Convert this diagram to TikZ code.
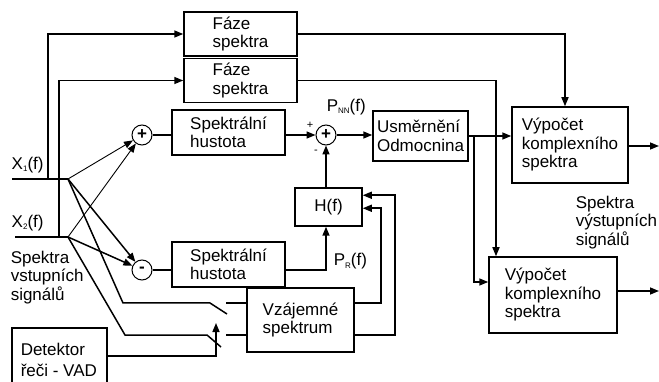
\documentclass[tikz,border=0pt]{standalone}
\usepackage{fontspec}
\setmainfont{Liberation Sans}
\usetikzlibrary{arrows.meta}

\newcommand{\sub}[1]{\raisebox{-2pt}{\fontsize{8}{8}\selectfont #1}}

\begin{document}
\begin{tikzpicture}[x=1pt, y=-1pt, >={Triangle[length=9pt,width=7pt]}, line width=1.5pt,
  font=\fontsize{17}{18.5}\selectfont,
  box/.style={draw, align=left, inner sep=0pt},
  sum/.style={draw, circle, line width=1pt, minimum size=20pt, inner sep=0pt},
  thinline/.style={line width=0.9pt},
  lbl/.style={align=left, inner sep=0pt}]
  \useasboundingbox (0,0) rectangle (659,382);

  \node[box, minimum width=113pt, minimum height=44pt] (faze1) at (240.5,34) {Fáze\\spektra};
  \node[box, minimum width=113pt, minimum height=44pt] (faze2) at (240.5,80.5) {Fáze\\spektra};
  \node[sum] (plus1) at (142,135) {\textbf{+}};
  \node[sum] (minus1) at (142,270) {\textbf{-}};
  \node[box, minimum width=113pt, minimum height=45pt] (hust1) at (228.5,132.5) {Spektrální\\hustota};
  \node[box, minimum width=113pt, minimum height=45pt] (hust2) at (228.5,264.5) {Spektrální\\hustota};
  \node[sum] (sum2) at (326,135) {\textbf{+}};
  \node[box, minimum width=67pt, minimum height=38pt, align=center] (hf) at (328.5,207) {H(f)};
  \node[box, minimum width=95pt, minimum height=50pt] (usm) at (420.5,136) {Usměrnění\\Odmocnina};
  \node[box, minimum width=116pt, minimum height=76pt] (vyp1) at (570,145) {Výpočet\\komplexního\\spektra};
  \node[box, minimum width=128pt, minimum height=76pt] (vyp2) at (553,295) {Výpočet\\komplexního\\spektra};
  \node[box, minimum width=107pt, minimum height=64pt] (vzaj) at (300.5,320) {Vzájemné\\spektrum};

  \node[lbl, anchor=base west] (x1lbl) at (11,170) {X\sub{1}(f)};
  \node[lbl, anchor=base west] (x2lbl) at (11,228) {X\sub{2}(f)};
  \node[lbl, anchor=north west] (vstup) at (10,250) {Spektra\\vstupních\\signálů};
  \node[lbl, anchor=north west] (vystup) at (575,195) {Spektra\\výstupních\\signálů};
  \node[lbl, anchor=base west] (pnn) at (326,112) {P\sub{NN}(f)};
  \node[lbl, anchor=base west] (pr) at (333,266) {P\sub{R}(f)};
  \node[inner sep=0pt, font=\fontsize{11}{11}\selectfont] (pl) at (310,125) {+};
  \node[inner sep=0pt, font=\fontsize{11}{11}\selectfont] (mi) at (316,152) {-};

  \node[lbl, anchor=north west, font=\fontsize{17}{21}\selectfont] (vad) at (20,342) {Detektor\\řeči - VAD};
  \draw (107,395) |- (12,328) -- (12,395);

  \coordinate (x1) at (12,179);
  \coordinate (x1s) at (68,179);
  \coordinate (j1) at (48,179);
  \coordinate (x2) at (15,237);
  \coordinate (x2s) at (68,237);
  \coordinate (j2) at (59,237);
  \coordinate (k1) at (123,303);
  \coordinate (sw1a) at (210,303);
  \coordinate (sw1b) at (227,314);
  \coordinate (sw1c) at (226,303);
  \coordinate (k2) at (125,335);
  \coordinate (sw2a) at (207,335);
  \coordinate (sw2b) at (221,347);
  \coordinate (sw2c) at (226,335);
  \coordinate (vadout) at (107,356);
  \coordinate (vadarr) at (216,323);
  \coordinate (out1) at (659,146);
  \coordinate (out2) at (659,291);

  \draw (x1) -- (x1s);
  \draw (x2) -- (x2s);
  \draw[->] (j1) |- (faze1.west);
  \draw[->] (j2) |- (faze2.west);

  \draw[->, thinline] (x1s) -- (plus1);
  \draw[->, thinline] (x2s) -- (plus1);
  \draw[->] (x1s) -- (minus1);
  \draw[->] (x2s) -- (minus1);

  \draw (x1s) -- (k1) -- (sw1a) -- (sw1b);
  \draw (sw1c) -- (sw1c-|vzaj.west);
  \draw (x2s) -- (k2) -- (sw2a) -- (sw2b);
  \draw (sw2c) -- (sw2c-|vzaj.west);
  \draw[->] (vadout) -| (vadarr);

  \draw (plus1) -- (plus1-|hust1.west);
  \draw (minus1) -- (minus1-|hust2.west);
  \draw[->] (hust1.east|-sum2) -- (sum2);
  \draw[->] (hust2.east|-minus1) -| (sum2|-hf.south);
  \draw[->] (sum2|-hf.north) -- (sum2);
  \draw[->] (sum2) -- (sum2-|usm.west);

  \draw[->] (vzaj.east|-sw1c) -- ++(26,0) |- ([yshift=-21pt]hf.north east);
  \draw[->] (vzaj.east|-sw2c) -- ++(40,0) |- ([yshift=-8pt]hf.north east);

  \draw[->] (usm.east) -- (usm.east-|vyp1.west);
  \draw[->] ([xshift=5pt]usm.east) |- ([yshift=13pt]vyp2.west);
  \draw[->] (faze1.east) -| ([xshift=-5pt]vyp1.north);
  \draw[->] (faze2.east) -| ([xshift=-57pt]vyp2.north);
  \draw[->] (vyp1.east|-out1) -- (out1);
  \draw[->] (vyp2.east|-out2) -- (out2);
\end{tikzpicture}
\end{document}
